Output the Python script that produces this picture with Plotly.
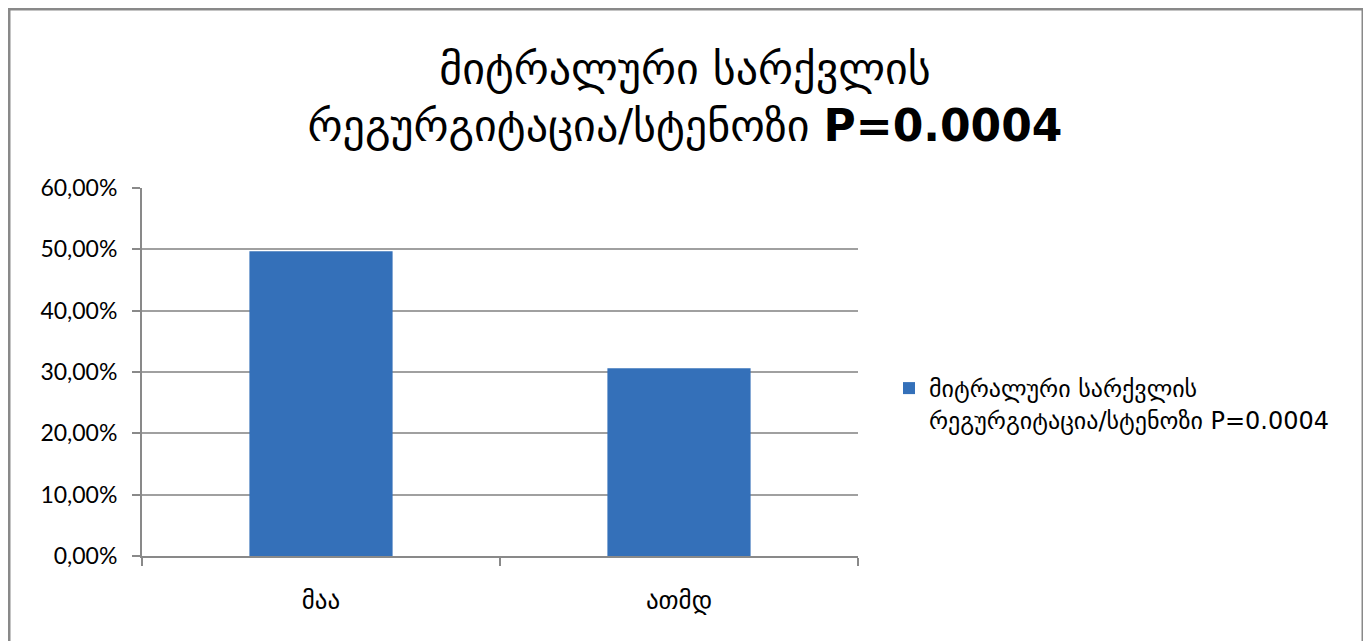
import plotly.graph_objects as go

categories = ["მაა", "ათმდ"]
values = [0.497, 0.306]
series_name = "მიტრალური სარქვლის<br>რეგურგიტაცია/სტენოზი P=0.0004"
title_text = "მიტრალური სარქვლის<br>რეგურგიტაცია/სტენოზი <b>P=0.0004</b>"
y_ticks = [0, 0.1, 0.2, 0.3, 0.4, 0.5, 0.6]

# page has an 8px body margin; work in figure pixels
W, H = 1363, 633
ml, mr, mt, mb = 134, 513, 180, 85
pw = W - ml - mr
ph = H - mt - mb

fig = go.Figure()
fig.add_trace(go.Bar(
    x=categories, y=values, name=series_name,
    marker=dict(color="#3470B9", line=dict(width=0)),
    width=0.4, showlegend=True,
))

fig.update_layout(
    width=W, height=H,
    margin=dict(l=ml, r=mr, t=mt, b=mb),
    paper_bgcolor="white", plot_bgcolor="white",
    separators=",.",
    font=dict(family="Lato, DejaVu Sans, sans-serif", size=20, color="#000000"),
    title=dict(text=title_text, x=677 / W, xanchor="center", y=1 - 76 / H, yanchor="middle",
               font=dict(family="DejaVu Sans, sans-serif", size=44, color="#000000")),
    showlegend=True,
    legend=dict(x=(881 - ml) / pw, xanchor="left", y=(H - 396 - mb) / ph, yanchor="middle",
                font=dict(family="DejaVu Sans, sans-serif", size=24, color="#000000"),
                bgcolor="rgba(0,0,0,0)", itemwidth=30, valign="top"),
    xaxis=dict(showline=True, linecolor="#898989", linewidth=2,
               ticks="outside", tickson="boundaries", ticklen=8, tickcolor="#898989",
               tickwidth=2, tickfont=dict(family="DejaVu Sans, sans-serif", size=25),
               ticklabelstandoff=21,
               showgrid=False, zeroline=False, automargin=False),
    yaxis=dict(range=[0, 0.6], tickvals=y_ticks, tickformat=".2%",
               showline=True, linecolor="#898989", linewidth=2,
               ticks="outside", ticklen=8, tickcolor="#898989", tickwidth=2,
               ticklabelstandoff=10,
               showgrid=True, gridcolor="#A0A0A0", gridwidth=2, zeroline=False,
               tickfont=dict(family="Lato, sans-serif", size=23), automargin=False),
    shapes=[dict(type="rect", xref="paper", yref="paper",
                 x0=(1 - ml) / pw, x1=(1355 - ml) / pw,
                 y0=(H - 660 - mb) / ph, y1=(H - 1 - mb) / ph,
                 line=dict(color="#898989", width=3), fillcolor="rgba(0,0,0,0)", layer="below")],
)

fig.write_html("out.html")
